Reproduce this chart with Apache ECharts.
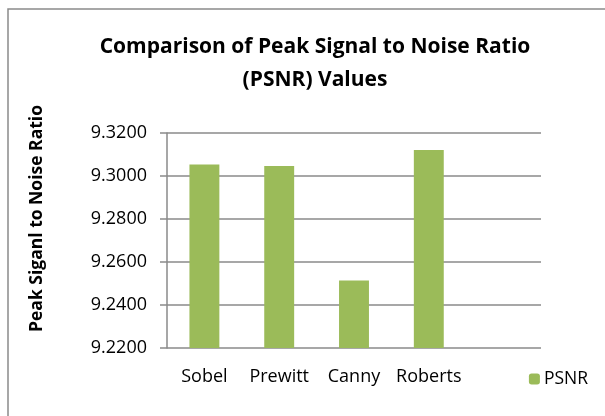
<!DOCTYPE html>
<html>
<head>
<meta charset="utf-8">
<script src="https://cdn.jsdelivr.net/npm/echarts@6/dist/echarts.min.js"></script>
<style>
  html, body { margin: 0; padding: 0; background: #fff; }
  #chart { width: 605px; height: 416px; }
</style>
</head>
<body>
<div id="chart"></div>
<script>
// categories (last slot is empty, like the original sheet)
var methods = ['Sobel', 'Prewitt', 'Canny', 'Roberts', ''];
var psnr = [9.3053, 9.3047, 9.2514, 9.3121, null];
var yMin = 9.22, yMax = 9.32, yStep = 0.02;

var font = 'Open Sans';
var chart = echarts.init(document.getElementById('chart'));

chart.setOption({
  backgroundColor: '#fff',
  animation: false,
  graphic: [{
    type: 'rect',
    shape: { x: 8, y: 9, width: 620, height: 430 },
    style: { fill: 'none', stroke: '#8a8a8a', lineWidth: 1.5 }
  }],
  title: {
    text: 'Comparison of Peak Signal to Noise Ratio\n(PSNR) Values',
    left: 310,
    top: 26,
    textAlign: 'center',
    textStyle: { fontFamily: font, fontWeight: 'bold', fontSize: 21, color: '#000', lineHeight: 33 }
  },
  legend: {
    right: 12,
    top: 365,
    itemWidth: 11,
    itemHeight: 11,
    itemGap: 4,
    data: ['PSNR'],
    textStyle: { fontFamily: font, fontSize: 17.5, color: '#000', padding: [0, 0, 0, -1] }
  },
  grid: { left: 167, right: 64, top: 133, bottom: 68, containLabel: false },
  xAxis: {
    type: 'category',
    data: methods,
    axisLine: { show: false },
    axisTick: { show: false },
    axisLabel: { fontFamily: font, fontSize: 18, color: '#000', margin: 20, interval: 0 }
  },
  yAxis: {
    type: 'value',
    min: yMin,
    max: yMax,
    interval: yStep,
    name: 'Peak Siganl to Noise Ratio',
    nameLocation: 'middle',
    nameGap: 121,
    nameTextStyle: { fontFamily: font, fontWeight: 'bold', fontSize: 17.5, color: '#000', padding: [0, 0, 0, 44] },
    axisLine: { show: true, lineStyle: { color: '#8a8a8a', width: 1.5 } },
    axisTick: { show: true, length: 7, lineStyle: { color: '#8a8a8a', width: 1.5 } },
    splitLine: { lineStyle: { color: '#8a8a8a', width: 1.5 } },
    axisLabel: {
      fontFamily: font, fontSize: 18, color: '#000', margin: 20,
      formatter: function (v) { return v.toFixed(4); }
    }
  },
  series: [{
    name: 'PSNR',
    type: 'bar',
    data: psnr,
    barWidth: '40%',
    itemStyle: { color: '#9BBB59' }
  }]
});
</script>
</body>
</html>
